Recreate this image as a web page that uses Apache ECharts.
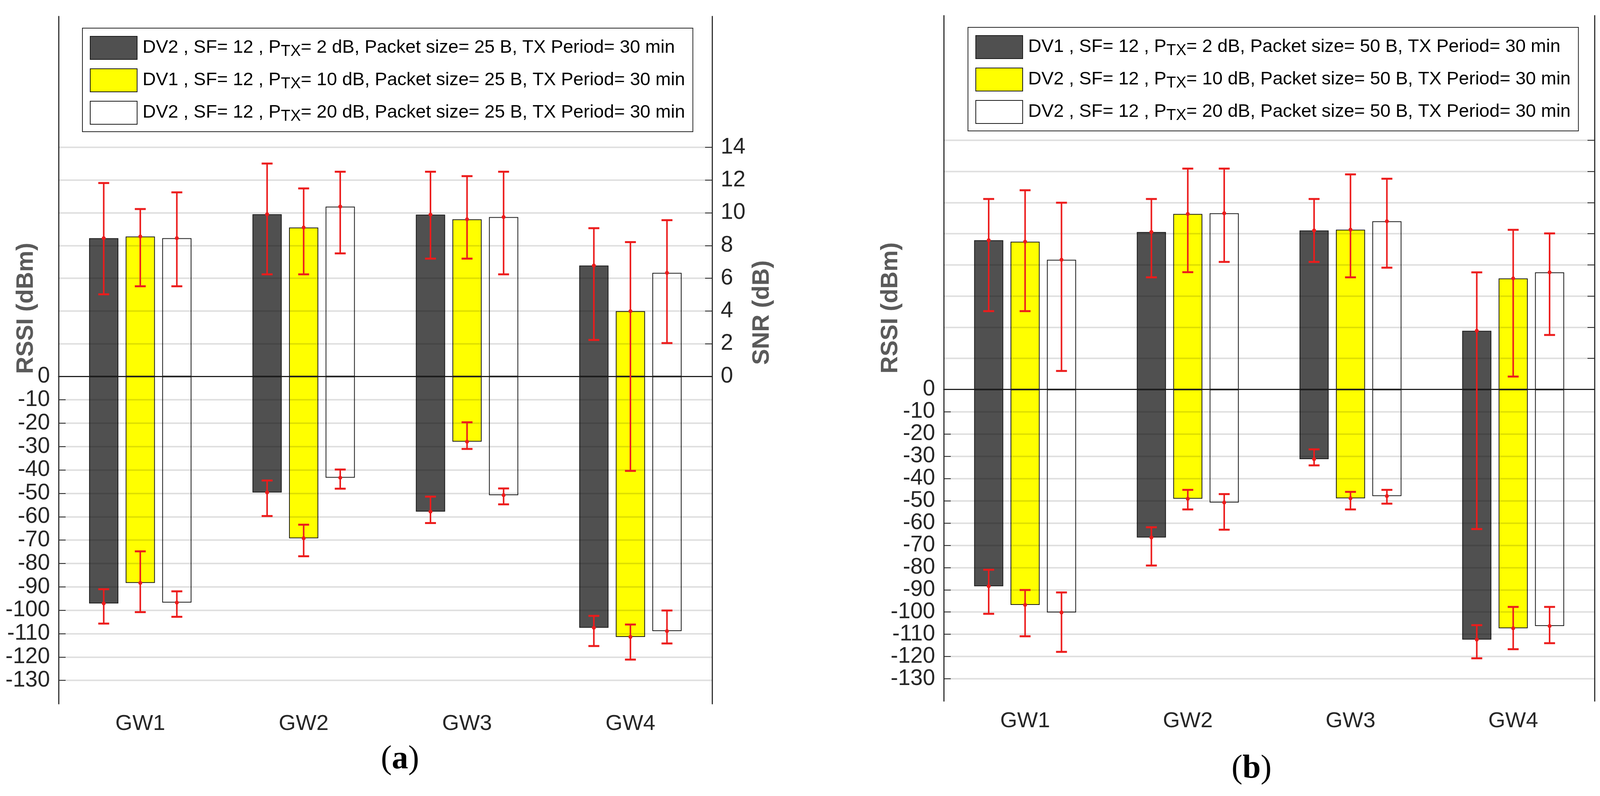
<!DOCTYPE html>
<html>
<head>
<meta charset="utf-8">
<title>RSSI / SNR per gateway</title>
<script src="https://cdn.jsdelivr.net/npm/echarts@6/dist/echarts.min.js"></script>
<style>
  html, body { margin: 0; padding: 0; background: #fff; }
  #chart { width: 4287px; height: 2037px; }
</style>
</head>
<body>
<div id="chart"></div>
<script>
// categories and tick values
var GATEWAYS = ["GW1", "GW2", "GW3", "GW4"];
var RSSI_TICKS = [-130, -120, -110, -100, -90, -80, -70, -60, -50, -40, -30, -20, -10, 0];
var SNR_TICKS_A = [0, 2, 4, 6, 8, 10, 12, 14];
var SNR_TICKS_B = [0, 2, 4, 6, 8, 10, 12, 14, 16];

// legend names (PTX is drawn as P with subscript TX)
var NAMES_A = [
  "DV2 , SF= 12 , PTX= 2 dB, Packet size= 25 B, TX Period= 30 min",
  "DV1 , SF= 12 , PTX= 10 dB, Packet size= 25 B, TX Period= 30 min",
  "DV2 , SF= 12 , PTX= 20 dB, Packet size= 25 B, TX Period= 30 min"
];
var NAMES_B = [
  "DV1 , SF= 12 , PTX= 2 dB, Packet size= 50 B, TX Period= 30 min",
  "DV2 , SF= 12 , PTX= 10 dB, Packet size= 50 B, TX Period= 30 min",
  "DV2 , SF= 12 , PTX= 20 dB, Packet size= 50 B, TX Period= 30 min"
];

// panel (a): one row per device, one value per gateway
var RSSI_A    = [[-97.1, -49.6, -57.8, -107.5], [-88.3, -69.2, -27.9, -111.4], [-96.7, -43.3, -50.8, -108.9]];
var RSSI_A_LO = [[-105.7, -59.7, -62.7, -115.3], [-100.8, -76.9, -31.0, -121.1], [-102.8, -48.0, -54.7, -114.2]];
var RSSI_A_HI = [[-91.0, -44.5, -51.4, -102.4], [-74.8, -63.4, -19.6, -106.1], [-91.9, -39.8, -47.9, -100.1]];
var SNR_A     = [[8.45, 9.91, 9.89, 6.78], [8.55, 9.10, 9.60, 3.99], [8.45, 10.38, 9.74, 6.33]];
var SNR_A_LO  = [[5.02, 6.24, 7.20, 2.23], [5.51, 6.24, 7.20, -5.77], [5.51, 7.52, 6.24, 2.04]];
var SNR_A_HI  = [[11.82, 13.01, 12.51, 9.06], [10.23, 11.49, 12.24, 8.21], [11.25, 12.51, 12.51, 9.55]];

// panel (b)
var RSSI_B    = [[-88.4, -66.5, -31.3, -112.4], [-96.8, -49.1, -48.9, -107.3], [-100.2, -50.8, -47.9, -106.3]];
var RSSI_B_LO = [[-100.8, -79.1, -34.1, -120.8], [-110.9, -53.9, -53.9, -116.7], [-117.9, -63.0, -51.3, -114.0]];
var RSSI_B_HI = [[-81.0, -61.9, -26.9, -105.9], [-90.1, -45.1, -46.0, -97.7], [-91.2, -47.0, -45.1, -97.7]];
var SNR_B     = [[9.58, 10.11, 10.21, 3.77], [9.49, 11.27, 10.26, 7.13], [8.33, 11.31, 10.80, 7.52]];
var SNR_B_LO  = [[5.03, 7.20, 8.19, -8.96], [5.03, 7.53, 7.20, 0.83], [1.19, 8.19, 7.82, 3.50]];
var SNR_B_HI  = [[12.23, 12.23, 12.23, 7.52], [12.79, 14.18, 13.81, 10.25], [11.99, 14.18, 13.53, 10.02]];

var FONT = "'Liberation Sans', Arial, Helvetica, sans-serif";
var SERIF = "'Liberation Serif', 'Times New Roman', serif";
var INK = "#262626";
var BAR_COLORS = ["#505050", "#ffff00", "#ffffff"];
var RED = "#ec1c1c";
var BAR_W = 0.179; // share of the category band
var BAR_GAP = 0.25; // gap between bars, share of bar width

var panels = [
  {
    grid: { left: 150, top: 42, width: 1673, height: 1759 },
    rssiMax: 154, snrMax: 22, snrTicks: SNR_TICKS_A, names: NAMES_A,
    rssi: RSSI_A, rssiLo: RSSI_A_LO, rssiHi: RSSI_A_HI,
    snr: SNR_A, snrLo: SNR_A_LO, snrHi: SNR_A_HI,
    legend: { left: 211, top: 72 }
  },
  {
    grid: { left: 2416, top: 40, width: 1666, height: 1754 },
    rssiMax: 168, snrMax: 24, snrTicks: SNR_TICKS_B, names: NAMES_B,
    rssi: RSSI_B, rssiLo: RSSI_B_LO, rssiHi: RSSI_B_HI,
    snr: SNR_B, snrLo: SNR_B_LO, snrHi: SNR_B_HI,
    legend: { left: 2478, top: 70 }
  }
];

// red error bar with caps and a dot at the mean, placed over its bar slot
function renderError(params, api) {
  var cat = api.value(0);
  var dev = api.value(1);
  var lo = api.coord([cat, api.value(2)]);
  var hi = api.coord([cat, api.value(3)]);
  var mid = api.coord([cat, api.value(4)]);
  var bw = api.size([1, 0])[0] * BAR_W;
  var x = lo[0] + (dev - 1) * bw * (1 + BAR_GAP);
  var cap = 14;
  return {
    type: "group",
    children: [
      { type: "line", shape: { x1: x, y1: lo[1], x2: x, y2: hi[1] }, style: { stroke: RED, lineWidth: 4 } },
      { type: "line", shape: { x1: x - cap, y1: lo[1], x2: x + cap, y2: lo[1] }, style: { stroke: RED, lineWidth: 5 } },
      { type: "line", shape: { x1: x - cap, y1: hi[1], x2: x + cap, y2: hi[1] }, style: { stroke: RED, lineWidth: 5 } },
      { type: "circle", shape: { cx: x, cy: mid[1], r: 5 }, style: { fill: RED } }
    ]
  };
}

function errorData(mean, lo, hi) {
  var out = [];
  for (var d = 0; d < mean.length; d++) {
    for (var c = 0; c < GATEWAYS.length; c++) {
      out.push([c, d, lo[d][c], hi[d][c], mean[d][c]]);
    }
  }
  return out;
}

function gridLines(ticks, keep) {
  return ticks.filter(keep).map(function (v) { return { yAxis: v }; });
}

var axisLineStyle = { color: "#333", width: 3 };
var tickLineStyle = { color: "#333", width: 2 };
var labelStyle = { fontFamily: FONT, fontSize: 57, color: INK };

var grids = [], xAxes = [], yAxes = [], series = [], legends = [];

panels.forEach(function (p, i) {
  grids.push(Object.assign({ outerBoundsMode: "none", containLabel: false }, p.grid));

  var xa = 2 * i, xb = 2 * i + 1;
  xAxes.push({
    type: "category", gridIndex: i, data: GATEWAYS, position: "bottom",
    axisLine: { show: true, lineStyle: axisLineStyle },
    axisTick: { show: true, inside: true, alignWithLabel: true, length: 19, lineStyle: tickLineStyle },
    axisLabel: { fontFamily: FONT, fontSize: 56, color: INK, margin: 24 },
    splitLine: { show: false }
  });
  xAxes.push({
    type: "category", gridIndex: i, data: GATEWAYS, position: "top",
    axisLine: { show: true, lineStyle: axisLineStyle },
    axisTick: { show: true, inside: true, alignWithLabel: true, length: 19, lineStyle: tickLineStyle },
    axisLabel: { show: false },
    splitLine: { show: false }
  });

  yAxes.push({
    type: "value", gridIndex: i, position: "left",
    min: -140, max: p.rssiMax, interval: 10,
    axisLine: { show: true, lineStyle: axisLineStyle },
    axisTick: { show: true, inside: true, length: 18, customValues: RSSI_TICKS, lineStyle: tickLineStyle },
    axisLabel: Object.assign({ customValues: RSSI_TICKS, margin: 22 }, labelStyle),
    splitLine: { show: false }
  });
  yAxes.push({
    type: "value", gridIndex: i, position: "right",
    min: -20, max: p.snrMax, interval: 2,
    axisLine: { show: true, lineStyle: axisLineStyle },
    axisTick: { show: true, inside: true, length: 18, customValues: p.snrTicks, lineStyle: tickLineStyle },
    axisLabel: Object.assign({ customValues: p.snrTicks, margin: 22 }, labelStyle),
    splitLine: { show: false }
  });

  for (var d = 0; d < 3; d++) {
    var style = { color: BAR_COLORS[d], borderColor: "#1a1a1a", borderWidth: 2 };
    var rssiBar = {
      type: "bar", name: p.names[d], xAxisIndex: xa, yAxisIndex: xa,
      data: p.rssi[d], barWidth: (BAR_W * 100) + "%", barGap: (BAR_GAP * 100) + "%",
      itemStyle: style, z: 2
    };
    var snrBar = {
      type: "bar", name: p.names[d], xAxisIndex: xb, yAxisIndex: xb,
      data: p.snr[d], barWidth: (BAR_W * 100) + "%", barGap: (BAR_GAP * 100) + "%",
      itemStyle: style, z: 2
    };
    if (d === 0) {
      rssiBar.markLine = {
        silent: true, symbol: ["none", "none"], label: { show: false },
        lineStyle: { color: "rgba(0,0,0,0.12)", width: 4, type: "solid" },
        data: gridLines(RSSI_TICKS, function (v) { return v < 0; }).concat([
          { yAxis: 0, lineStyle: { color: "#1a1a1a", width: 2, type: "solid" } }
        ])
      };
      snrBar.markLine = {
        silent: true, symbol: ["none", "none"], label: { show: false },
        lineStyle: { color: "rgba(0,0,0,0.12)", width: 4, type: "solid" },
        data: gridLines(p.snrTicks, function (v) { return v > 0; })
      };
    }
    series.push(rssiBar, snrBar);
  }

  series.push({
    type: "custom", xAxisIndex: xa, yAxisIndex: xa, renderItem: renderError,
    encode: { x: 0, y: [2, 3] }, data: errorData(p.rssi, p.rssiLo, p.rssiHi), z: 6, silent: true
  });
  series.push({
    type: "custom", xAxisIndex: xb, yAxisIndex: xb, renderItem: renderError,
    encode: { x: 0, y: [2, 3] }, data: errorData(p.snr, p.snrLo, p.snrHi), z: 6, silent: true
  });

  legends.push({
    left: p.legend.left, top: p.legend.top, orient: "vertical",
    data: p.names, icon: "rect", itemWidth: 120, itemHeight: 59, itemGap: 22,
    padding: [20, 20, 18, 19], borderColor: "#262626", borderWidth: 2,
    backgroundColor: "#fff", selectedMode: false,
    itemStyle: { borderColor: "#1a1a1a", borderWidth: 2 },
    textStyle: {
      fontFamily: FONT, fontSize: 47, color: "#000", lineHeight: 59, padding: [0, 0, 0, 9],
      rich: { s: { fontFamily: FONT, fontSize: 40, color: "#000", lineHeight: 10, verticalAlign: "bottom" } }
    },
    formatter: function (name) { return name.replace("PTX", "P{s|TX}"); }
  });
});

function axisName(text, x, y) {
  return {
    type: "text", x: x, y: y, rotation: Math.PI / 2,
    style: { text: text, fontFamily: FONT, fontSize: 61, fontWeight: "bold", fill: "#5a5a5a", align: "center", verticalAlign: "middle" }
  };
}

function caption(letter, x, y) {
  return {
    type: "text", x: x, y: y,
    style: {
      text: "{p|(}{b|" + letter + "}{p|)}", align: "center", verticalAlign: "middle",
      rich: {
        p: { fontFamily: SERIF, fontSize: 84, fill: "#000" },
        b: { fontFamily: SERIF, fontSize: 84, fontWeight: "bold", fill: "#000" }
      }
    }
  };
}

var myChart = echarts.init(document.getElementById("chart"));
var option = {
  animation: false,
  backgroundColor: "#fff",
  grid: grids,
  xAxis: xAxes,
  yAxis: yAxes,
  legend: legends,
  series: series,
  graphic: [
    axisName("RSSI (dBm)", 67, 789),
    axisName("SNR (dB)", 1951, 800),
    axisName("RSSI (dBm)", 2280, 788),
    axisName("SNR (dB)", 4238, 712),
    caption("a", 1024, 1944),
    caption("b", 3204, 1968)
  ]
};
myChart.setOption(option);
window.addEventListener("resize", myChart.resize);
</script>
</body>
</html>
